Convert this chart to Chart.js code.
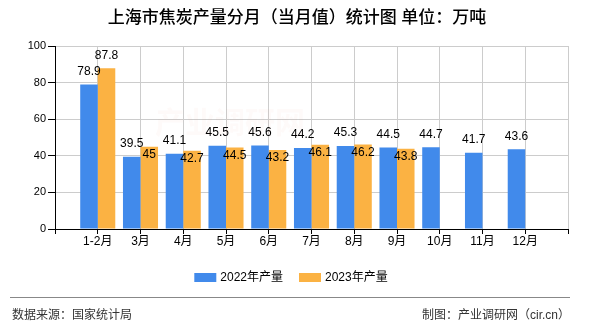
<!DOCTYPE html>
<html>
<head>
<meta charset="utf-8">
<script src="https://cdn.jsdelivr.net/npm/chart.js@4/dist/chart.umd.min.js"></script>
<style>
  html, body { margin: 0; padding: 0; background: #fff; }
  #wrap { width: 590px; height: 330px; position: relative; }
</style>
</head>
<body>
<div id="wrap"><canvas id="cv" width="590" height="330"></canvas></div>
<script>
// months shown on the x axis
const categories = ["1-2月", "3月", "4月", "5月", "6月", "7月", "8月", "9月", "10月", "11月", "12月"];
// 上海市焦炭产量 (万吨)
const prod2022 = [78.9, 39.5, 41.1, 45.5, 45.6, 44.2, 45.3, 44.5, 44.7, 41.7, 43.6];
const prod2023 = [87.8, 45, 42.7, 44.5, 43.2, 46.1, 46.2, 43.8, null, null, null];
const seriesNames = ["2022年产量", "2023年产量"];
const yTicks = [0, 20, 40, 60, 80, 100];

const titleText = "上海市焦炭产量分月（当月值）统计图 单位：万吨";
const sourceText = "数据来源：国家统计局";
const creditText = "制图：产业调研网（cir.cn）";

const BLUE = "#418AEB";
const ORANGE = "#FBB243";
const CJK = '"Liberation Sans", "Noto Sans CJK SC", sans-serif';

// axis has an empty slot at each end so the bars sit on the grid lines
const pad = arr => [null, ...arr, null];
const axisLabels = ["", ...categories, ""];

// value labels above bars; 2023 label drops into the bar when it would collide
const valueLabels = {
  id: "valueLabels",
  afterDatasetsDraw(chart) {
    const ctx = chart.ctx;
    ctx.save();
    ctx.font = "12px " + CJK;
    ctx.fillStyle = "#000";
    ctx.textAlign = "center";
    ctx.textBaseline = "middle";
    chart.data.datasets.forEach((ds, i) => {
      const meta = chart.getDatasetMeta(i);
      meta.data.forEach((el, j) => {
        const v = ds.data[j];
        if (v == null) return;
        let y = el.y - 13;
        if (i === 1) {
          const other = chart.data.datasets[0].data[j];
          if (other != null && Math.abs(other - v) < 7) y = el.y + 8;
        }
        ctx.fillText(String(v), el.x, y);
      });
    });
    ctx.restore();
  }
};

// title, legend, footer
const decor = {
  id: "decor",
  beforeDatasetsDraw(chart) {
    const ctx = chart.ctx;
    ctx.save();
    ctx.font = "bold 30px " + CJK;
    ctx.fillStyle = "rgba(235,130,110,0.04)";
    ctx.textAlign = "left";
    ctx.textBaseline = "middle";
    ctx.fillText("产业调研网", 155, 125);
    ctx.restore();
  },
  afterDraw(chart) {
    const ctx = chart.ctx;
    ctx.save();
    // title
    ctx.fillStyle = "#000";
    ctx.font = "500 17px " + CJK;
    ctx.textAlign = "center";
    ctx.textBaseline = "middle";
    ctx.fillText(titleText, 297, 18);

    // legend
    ctx.font = "12px " + CJK;
    ctx.textAlign = "left";
    const colors = [BLUE, ORANGE];
    const boxW = 22, boxH = 9, gap = 4, itemGap = 16;
    const widths = seriesNames.map(n => ctx.measureText(n).width);
    const total = widths.reduce((a, w) => a + boxW + gap + w, 0) + itemGap * (seriesNames.length - 1);
    let x = 291 - total / 2;
    const ly = 277.5;
    seriesNames.forEach((n, k) => {
      ctx.fillStyle = colors[k];
      ctx.fillRect(x, ly - boxH / 2, boxW, boxH);
      x += boxW + gap;
      ctx.fillStyle = "#000";
      ctx.fillText(n, x, ly);
      x += widths[k] + itemGap;
    });

    // footer
    ctx.strokeStyle = "#888";
    ctx.lineWidth = 1;
    ctx.beginPath();
    ctx.moveTo(10, 297.5);
    ctx.lineTo(570, 297.5);
    ctx.stroke();
    ctx.fillStyle = "#333";
    ctx.font = "12px " + CJK;
    ctx.textAlign = "left";
    ctx.fillText(sourceText, 12, 316);
    ctx.textAlign = "right";
    ctx.fillText(creditText, 570, 316);
    ctx.restore();
  }
};

new Chart(document.getElementById("cv").getContext("2d"), {
  type: "bar",
  data: {
    labels: axisLabels,
    datasets: [
      { label: seriesNames[0], data: pad(prod2022), backgroundColor: BLUE },
      { label: seriesNames[1], data: pad(prod2023), backgroundColor: ORANGE }
    ]
  },
  options: {
    responsive: false,
    animation: false,
    events: [],
    layout: { padding: { left: 0, right: 22, top: 46, bottom: 76 } },
    datasets: { bar: { categoryPercentage: 0.82, barPercentage: 1 } },
    plugins: { legend: { display: false }, title: { display: false }, tooltip: { enabled: false } },
    scales: {
      x: {
        offset: false,
        grid: { offset: false, color: "#ccc", tickColor: "#000", tickLength: 5 },
        border: { color: "#000" },
        ticks: { autoSkip: false, maxRotation: 0, padding: 0, color: "#000", font: { size: 12, family: CJK } },
        afterFit: s => { s.height = 25; }
      },
      y: {
        min: 0, max: 100,
        afterBuildTicks: s => { s.ticks = yTicks.map(v => ({ value: v })); },
        grid: { color: "#ccc", tickColor: "#000", tickLength: 7 },
        border: { color: "#000" },
        ticks: { padding: 2, color: "#000", font: { size: 11, family: CJK } },
        afterFit: s => { s.width = 55; }
      }
    }
  },
  plugins: [decor, valueLabels]
});
</script>
</body>
</html>
